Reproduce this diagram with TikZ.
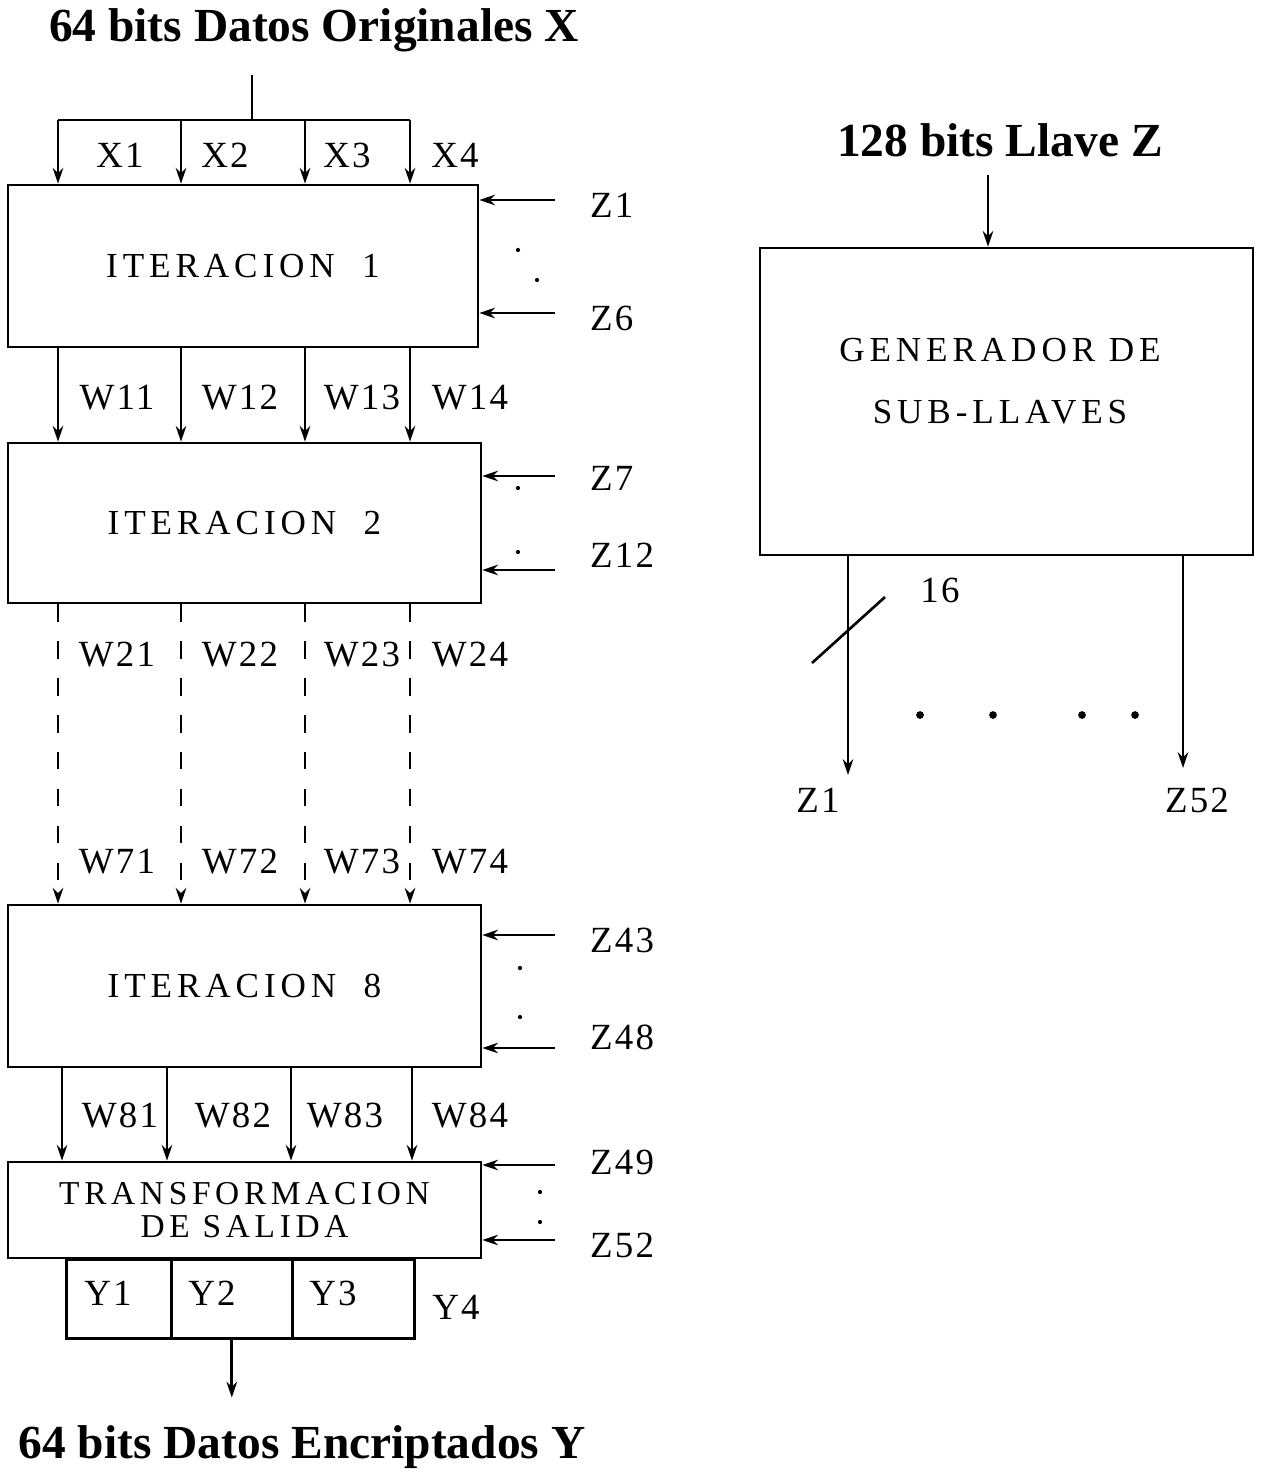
\documentclass[tikz,border=0pt]{standalone}
\usepackage{fontspec}
\setmainfont{Liberation Serif}
\newfontfamily\lblfont[LetterSpace=6]{Liberation Serif}
\newfontfamily\boxfont[LetterSpace=14]{Liberation Serif}
\usetikzlibrary{positioning,arrows.meta}

\begin{document}
\begin{tikzpicture}[
    x=0.02cm,y=-0.02cm,
    >={Stealth[length=9pt,width=6pt]},
    line width=1.5pt,
    every node/.style={font=\lblfont\fontsize{21}{24}\selectfont},
    ttl/.style={font=\bfseries\fontsize{27}{30}\selectfont},
    blk/.style={draw,inner sep=0pt,align=center,font=\boxfont\fontsize{20}{18}\selectfont},
    ybox/.style={draw,inner sep=0pt,minimum height=1.58cm},
    bus/.style={dash pattern=on 10pt off 11pt}
]
\useasboundingbox (0,0) rectangle (1264,1473);

% Titles
\node[ttl] (tin)  at (314,30)   {64 bits Datos Originales X};
\node[ttl] (tkey) at (1000,140) {128 bits Llave Z};
\node[ttl] (tout) at (302,1447) {64 bits Datos Encriptados Y};

% Blocks of the cipher
\node[blk,minimum width=9.4cm,minimum height=3.24cm]  (it1) at (243,266)   {ITERACION~~1};
\node[blk,minimum width=9.46cm,minimum height=3.2cm]  (it2) at (244.5,523) {ITERACION~~2};
\node[blk,minimum width=9.46cm,minimum height=3.24cm] (it8) at (244.5,986) {ITERACION~~8};
\node[blk,minimum width=9.46cm,minimum height=1.92cm,font=\boxfont\fontsize{19}{19}\selectfont]
    (tr) at (244.5,1210) {TRANSFORMACION\\DE SALIDA};

% Output words
\node[ybox,minimum width=2.1cm,anchor=north west] (y1) at (65,1258) {};
\node[ybox,minimum width=2.42cm,right=-1.5pt of y1] (y2) {};
\node[ybox,minimum width=2.44cm,right=-1.5pt of y2] (y3) {};
\node (ly1) at (108,1293) {Y1};
\node (ly2) at (212,1293) {Y2};
\node (ly3) at (333,1293) {Y3};
\node (ly4) at (456,1307) {Y4};

% Input bus
\coordinate (xin) at (252,75);
\coordinate (xbus) at (252,120);
\foreach \x [count=\i] in {58,181,305,410} {
    \coordinate (c\i) at (\x,120);
}
\foreach \x [count=\i] in {62,167,291,412} {
    \coordinate (d\i) at (\x,1067);
}
\draw (xin) -- (xbus);
\draw (c1) -- (c4);
\foreach \i in {1,...,4} {
    \draw[->] (c\i) -- (c\i |- it1.north);
    \draw[->] (it1.south -| c\i) -- (it2.north -| c\i);
    \draw[->,bus] (it2.south -| c\i) -- (it8.north -| c\i);
    \draw[->] (d\i) -- (d\i |- tr.north);
}
\foreach \i/\x in {1/120,2/225,3/347,4/455}
    \node (lx\i) at (\x,155) {X\i};

% Intermediate words
\foreach \r/\y in {1/398,2/655,7/862}
    \foreach \c/\x in {1/117,2/240,3/362,4/470}
        \node (lw\r\c) at (\x,\y) {W\r\c};
\foreach \c/\x in {1/120,2/233,3/345,4/470}
    \node (lw8\c) at (\x,1115) {W8\c};

% Subkeys into the blocks
\foreach \n/\by/\ly/\bx in {1/200/205/it1, 6/313/318/it1, 7/476/478/it2, 12/570/555/it2,
                            43/935/940/it8, 48/1048/1037/it8, 49/1165/1162/tr, 52/1240/1245/tr} {
    \coordinate (zi\n) at (555,\by);
    \draw[->] (zi\n) -- (zi\n -| \bx.east);
    \node[anchor=west] (lz\n) at (583,\ly) {Z\n};
}
\foreach \x/\y in {518/250,537/280,518/488,518/552,520/968,520/1017,540/1192,540/1222}
    \fill (\x,\y) circle (1.2pt);

% Subkey generator
\node[draw,minimum width=9.86cm,minimum height=6.14cm] (gen) at (1006.5,401.5) {};
\node[align=center,font=\boxfont\fontsize{20}{35}\selectfont] (gentxt) at (1000,381) {GENERADOR DE\\SUB-LLAVES};
\coordinate (kin) at (988,175);
\draw[->] (kin) -- (kin |- gen.north);
\coordinate (k1) at (848,775);
\coordinate (k52) at (1183,768);
\draw[->] (gen.south -| k1) -- (k1);
\draw[->] (gen.south -| k52) -- (k52);
\draw (812,663) -- (885,597);
\node (l16) at (940,590) {16};
\foreach \x in {920,993,1082,1135}
    \fill (\x,715) circle (2.2pt);
\node (lk1)  at (818,800)  {Z1};
\node (lk52) at (1197,800) {Z52};

% Result
\coordinate[below=1.16cm of y2.south] (yout);
\draw[->] (y2.south) -- (yout);

\end{tikzpicture}
\end{document}
